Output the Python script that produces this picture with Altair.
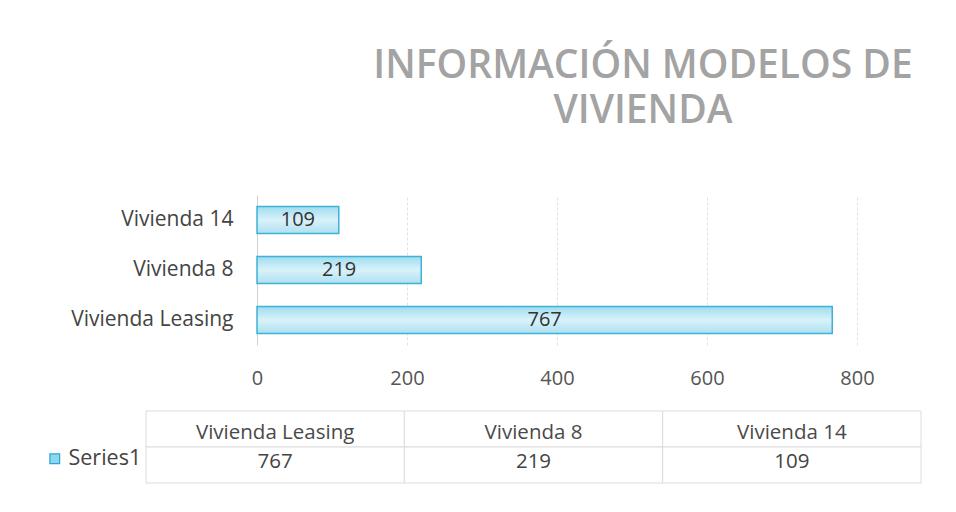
import altair as alt
import pandas as pd

categories = ["Vivienda Leasing", "Vivienda 8", "Vivienda 14"]
values = [767, 219, 109]
series_name = "Series1"
title_lines = ["INFORMACIÓN MODELOS DE", "VIVIENDA"]
x_ticks = [0, 200, 400, 600, 800]

df = pd.DataFrame({"modelo": categories, "valor": values, "serie": series_name})

FONT = "Open Sans"
bar_order = list(reversed(categories))

y_enc = alt.Y(
    "modelo:N",
    sort=bar_order,
    scale=alt.Scale(paddingInner=0.46, paddingOuter=0.23),
    axis=alt.Axis(
        title=None, ticks=False, domain=True, domainColor="#d0d0d0",
        labelFont=FONT, labelFontSize=21, labelColor="#444444",
        labelPadding=24, minExtent=244, maxExtent=244,
    ),
)
x_enc = alt.X(
    "valor:Q",
    scale=alt.Scale(domain=[0, 800], nice=False),
    axis=alt.Axis(
        title=None, values=x_ticks, ticks=False, domain=False,
        labelFont=FONT, labelFontSize=20, labelColor="#555555",
        labelPadding=23, labelBaseline="top", labelFlush=False,
        grid=True, gridColor="#e2e2e2", gridDash=[3, 2],
    ),
)

bars = alt.Chart(df).mark_bar(
    fill=alt.Gradient(
        gradient="linear", x1=0, x2=0, y1=0, y2=1,
        stops=[alt.GradientStop(color="#9fdcf0", offset=0),
               alt.GradientStop(color="#d9f2fa", offset=0.5),
               alt.GradientStop(color="#aee0f0", offset=1)],
    ),
    stroke="#3db3d8", strokeWidth=1.5,
).encode(x=x_enc, y=y_enc)

labels = alt.Chart(df).transform_calculate(mid="datum.valor / 2").mark_text(
    font=FONT, fontSize=20, color="#333333"
).encode(x=alt.X("mid:Q"), y=alt.Y("modelo:N", sort=bar_order), text="valor:Q")

top = alt.layer(bars, labels).properties(
    width=600, height=150,
    title=alt.Title(
        text=title_lines, font=FONT, fontSize=39, fontWeight=600,
        color="#a3a3a3", anchor="middle", dx=86, offset=64, lineHeight=45,
    ),
)

# Data table
tbl_rows = []
for c, v in zip(categories, values):
    tbl_rows.append({"modelo": c, "fila": "header", "txt": c, "serie": series_name})
    tbl_rows.append({"modelo": c, "fila": series_name, "txt": str(v), "serie": series_name})
tdf = pd.DataFrame(tbl_rows)

tx = alt.X("modelo:N", sort=categories,
           scale=alt.Scale(paddingInner=0, paddingOuter=0, range=[-111, 664]),
           axis=None)
ty = alt.Y("fila:N", sort=["header", series_name],
           scale=alt.Scale(paddingInner=0, paddingOuter=0), axis=None)

cells = alt.Chart(tdf).mark_rect(fill="white", stroke="#dcdcdc", strokeWidth=1).encode(x=tx, y=ty)
head_text = alt.Chart(tdf).transform_filter(alt.datum.fila == "header").mark_text(
    font=FONT, fontSize=20.5, color="#4a4a4a", dy=4).encode(x=tx, y=ty, text="txt:N")
val_text = alt.Chart(tdf).transform_filter(alt.datum.fila == series_name).mark_text(
    font=FONT, fontSize=20.5, color="#444444", dy=-3).encode(x=tx, y=ty, text="txt:N")
legend_pt = alt.Chart(tdf[tdf["fila"] == series_name].head(1)).mark_square(
    opacity=0).encode(
    x=tx, y=ty,
    color=alt.Color("serie:N", scale=alt.Scale(range=["#8ed6ef"]),
                    legend=alt.Legend(
                        title=None, orient="none", legendX=-213, legendY=253,
                        symbolType="square", symbolSize=95, symbolOpacity=1,
                        symbolFillColor="#8ed6ef",
                        symbolStrokeColor="#2aa8d0", symbolStrokeWidth=1.2,
                        labelFont=FONT, labelFontSize=21.5, labelColor="#444444",
                        labelOffset=3, padding=0,
                    )),
)
table = alt.layer(cells, head_text, val_text, legend_pt).properties(width=553, height=72)

chart = alt.vconcat(top, table, spacing=22).properties(
    padding={"top": 39, "left": 5, "right": 5, "bottom": 5}
).configure(background="white").configure_view(stroke=None)

chart.save("out.html", embed_options={"renderer": "svg", "actions": False})
